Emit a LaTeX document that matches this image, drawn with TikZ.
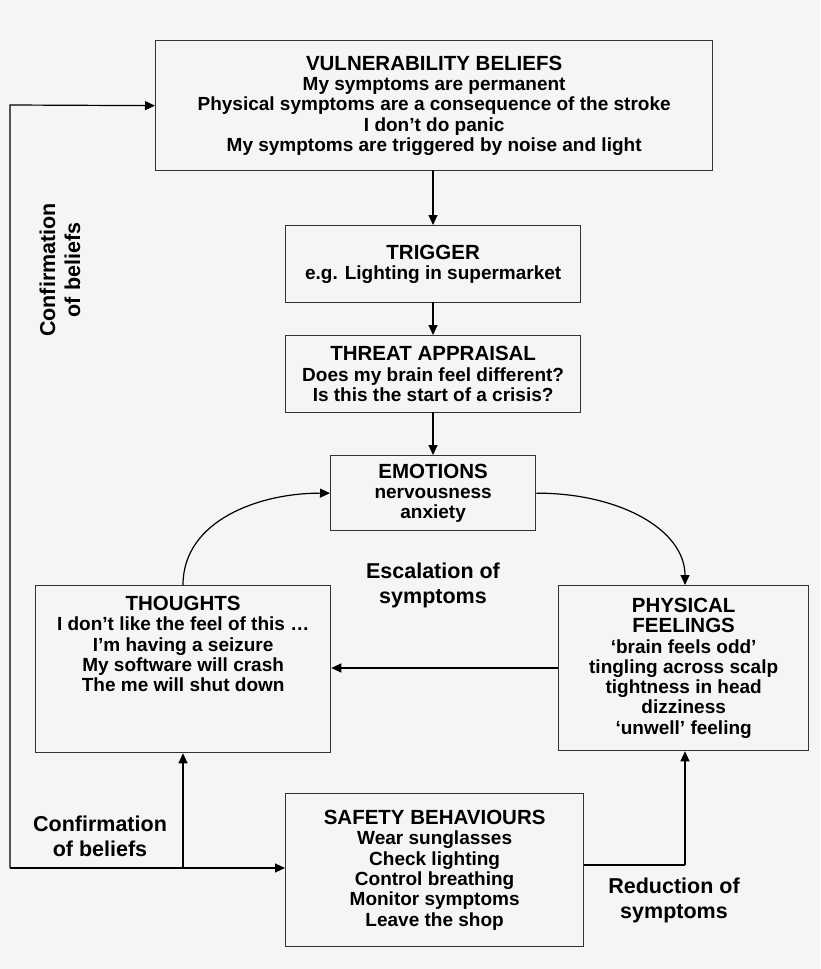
\documentclass[tikz,border=0pt]{standalone}
\usepackage{fontspec}
\setmainfont{Liberation Sans}
\usetikzlibrary{arrows.meta}
\begin{document}
\begin{tikzpicture}[x=1pt,y=-1pt,
  box/.style={draw=black!80,line width=1.3pt,fill=white!96!black,anchor=north west,inner sep=0pt,align=center,font=\bfseries\fontsize{19}{20.3}\selectfont},
  arr/.style={line width=1.2pt,-{Triangle[length=10pt,width=9pt]}},
  ln/.style={line width=1.2pt},
  lbl/.style={font=\bfseries\fontsize{21.5}{25}\selectfont,align=center}]
\fill[white!96!black] (0,0) rectangle (820,969);
\useasboundingbox (0,0) rectangle (820,969);
\node[box,minimum width=557,minimum height=130] (v) at (155,40) {{\fontsize{20.5}{25}\selectfont VULNERABILITY BELIEFS}\\My symptoms are permanent\\Physical symptoms are a consequence of the stroke\\I don't do panic\\My symptoms are triggered by noise and light};
\node[box,minimum width=295,minimum height=77] (t) at (285,225) {{\fontsize{20.5}{25}\selectfont TRIGGER}\\e.g. Lighting in supermarket};
\node[box,minimum width=295,minimum height=77] (ta) at (285,335) {{\fontsize{20.5}{25}\selectfont THREAT APPRAISAL}\\Does my brain feel different?\\Is this the start of a crisis?};
\node[box,minimum width=205,minimum height=75] (e) at (330,455) {{\fontsize{20.5}{25}\selectfont EMOTIONS}\\nervousness\\anxiety};
\node[box,minimum width=295,minimum height=167] (th) at (35,585) {{\fontsize{20.5}{25}\selectfont THOUGHTS}\\I don't like the feel of this \dots\\I'm having a seizure\\My software will crash\\The me will shut down\\[30pt]};
\node[box,minimum width=250,minimum height=165] (p) at (558,585) {{\fontsize{20.5}{24}\selectfont PHYSICAL}\\{\fontsize{20.5}{24}\selectfont FEELINGS}\\`brain feels odd'\\tingling across scalp\\tightness in head\\dizziness\\`unwell' feeling};
\node[box,minimum width=298,minimum height=153] (s) at (285,793) {{\fontsize{20.5}{25}\selectfont SAFETY BEHAVIOURS}\\Wear sunglasses\\Check lighting\\Control breathing\\Monitor symptoms\\Leave the shop};
\coordinate (c1) at (10,868);
\coordinate (c2) at (183,868);
\coordinate (c3) at (685,865);
\draw[arr] (433,170) -- (433,225);
\draw[arr] (433,302) -- (433,335);
\draw[arr] (433,412) -- (433,455);
\draw[arr] (183,585) .. controls (183,520) and (260,493) .. (e.west);
\draw[arr] (e.east) .. controls (620,493) and (685,530) .. (685,585);
\draw[arr] (p.west |- 0,668) -- (th.east |- 0,668);
\draw[arr] (c1) -- (10,105) -- (v.west);
\draw[ln] (c1) -- (c2);
\draw[arr] (c2) -- (th.south -| c2);
\draw[arr] (c2) -- (s.west |- c2);
\draw[ln] (s.east |- c3) -- (c3);
\draw[arr] (c3) -- (p.south -| c3);
\node[lbl,rotate=90] (l1) at (60,270) {Confirmation\\of beliefs};
\node[lbl] (l2) at (100,836) {Confirmation\\of beliefs};
\node[lbl] (l3) at (433,585) {Escalation of\\symptoms};
\node[lbl] (l4) at (674,900) {Reduction of\\symptoms};
\end{tikzpicture}
\end{document}
